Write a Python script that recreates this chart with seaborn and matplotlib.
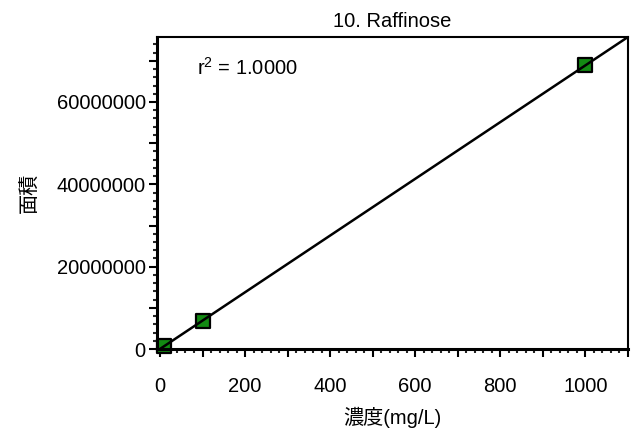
import numpy as np
import pandas as pd
import matplotlib
matplotlib.use("Agg")
import matplotlib.pyplot as plt
from matplotlib.ticker import MultipleLocator, FuncFormatter
import seaborn as sns

# data
conc = [10, 100, 1000]
area = [690000, 6900000, 68900000]
title = "10. Raffinose"
xlabel = "濃度(mg/L)"
ylabel = "面積"
r2_text = "r$^2$ = 1.0000"

sns.set_style("white")
plt.rcParams['font.family'] = ['Liberation Sans', 'Noto Sans CJK JP', 'DejaVu Sans']
plt.rcParams['text.color'] = 'black'
plt.rcParams['axes.labelcolor'] = 'black'
plt.rcParams['mathtext.fontset'] = 'custom'
plt.rcParams['mathtext.rm'] = 'Liberation Sans'

df = pd.DataFrame({"conc": conc, "area": area})

fig = plt.figure(figsize=(6.34, 4.32), dpi=100)
ax = fig.add_axes([0.2476, 0.1921, 0.9905 - 0.2476, 0.9144 - 0.1921])

xlim = (-7, 1100)
slope, intercept = np.polyfit(conc, area, 1)
line_df = pd.DataFrame({"x": list(xlim)})
line_df["y"] = slope * line_df["x"] + intercept

sns.scatterplot(data=df, x="conc", y="area", ax=ax, marker="s", s=110,
                color="#138a13", edgecolor="black", linewidth=1.6, zorder=2, clip_on=False)
sns.lineplot(data=line_df, x="x", y="y", ax=ax, color="black", linewidth=1.8, zorder=3)

ax.set_xlim(*xlim)
ax.set_ylim(0, slope * xlim[1] + intercept)

ax.xaxis.set_major_locator(MultipleLocator(100))
ax.xaxis.set_minor_locator(MultipleLocator(20))
ax.xaxis.set_major_formatter(FuncFormatter(lambda v, p: f"{int(round(v))}" if round(v) % 200 == 0 else ""))
ax.yaxis.set_major_locator(MultipleLocator(10000000))
ax.yaxis.set_minor_locator(MultipleLocator(2000000))
ax.yaxis.set_major_formatter(FuncFormatter(lambda v, p: f"{int(round(v))}" if round(v) % 20000000 == 0 else ""))

ax.tick_params(axis="both", which="major", direction="out", length=6, width=1.5,
               labelsize=14.5, colors="black", bottom=True, left=True, pad=2)
ax.tick_params(axis="x", which="major", pad=14)
ax.tick_params(axis="both", which="minor", direction="out", length=3, width=1.5,
               bottom=True, left=True)

for side in ["left", "bottom"]:
    ax.spines[side].set_linewidth(2.2)
    ax.spines[side].set_color("black")
for side in ["top", "right"]:
    ax.spines[side].set_linewidth(1.5)
    ax.spines[side].set_color("black")

ax.set_title(title, fontsize=14.5, pad=7, color="black")
ax.set_xlabel(xlabel, fontsize=14.5, labelpad=8)
ax.set_ylabel(ylabel, fontsize=14.5, labelpad=12)
ax.text(0.085, 0.90, r2_text, transform=ax.transAxes, fontsize=14.5, va="center", ha="left")

fig.savefig("out.png", dpi=100)
